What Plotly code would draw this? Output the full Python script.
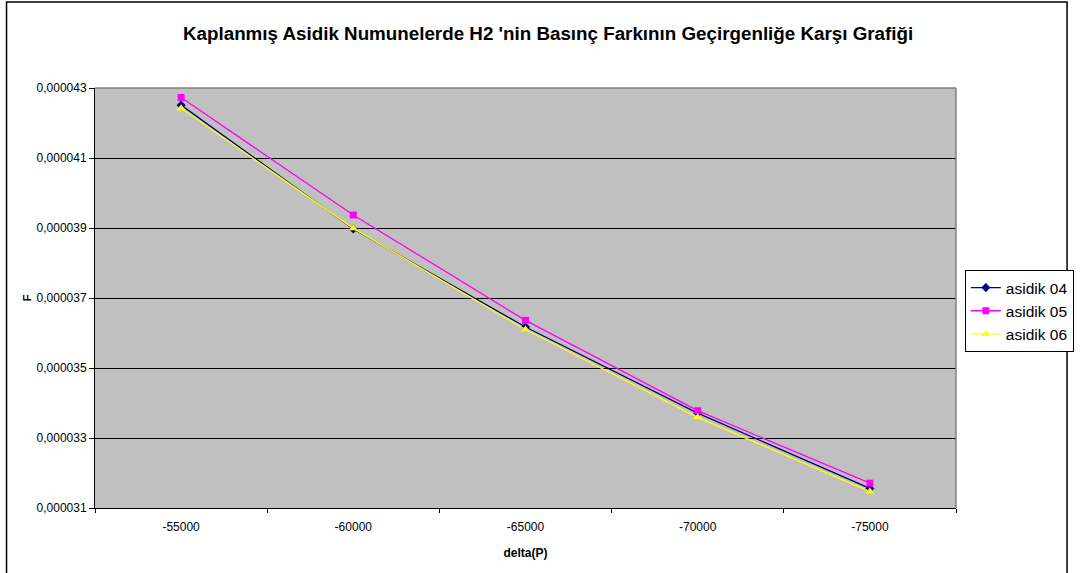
import plotly.graph_objects as go

# Pressure difference categories (x axis) and permeability values (y axis)
delta_p = ["-55000", "-60000", "-65000", "-70000", "-75000"]
asidik_04 = [0.00004251, 0.00003897, 0.00003617, 0.00003371, 0.00003156]
asidik_05 = [0.00004273, 0.00003937, 0.00003636, 0.00003378, 0.00003171]
asidik_06 = [0.00004242, 0.00003899, 0.00003610, 0.00003359, 0.00003147]

W, H = 1086, 573
L, R, T, B = 95, 115, 88, 65
pw, ph = W - L - R, H - T - B

def px_x(px):
    return (px - L) / pw

def px_y(py):
    return (H - B - py) / ph

fig = go.Figure()
series = [
    ("asidik 04", asidik_04, "#000080", "diamond", 7),
    ("asidik 05", asidik_05, "#FF00FF", "square", 7),
    ("asidik 06", asidik_06, "#FFFF00", "triangle-up", 8),
]
for name, vals, color, sym, size in series:
    fig.add_trace(go.Scatter(
        x=delta_p, y=vals, name=name, mode="lines+markers",
        line=dict(color=color, width=1.3),
        marker=dict(symbol=sym, size=size, color=color, line=dict(width=0)),
    ))

fig.update_layout(
    width=W, height=H,
    margin=dict(l=L, r=R, t=T, b=B),
    paper_bgcolor="white",
    plot_bgcolor="#C0C0C0",
    separators=",.",
    font=dict(family="Liberation Sans, Arial, sans-serif", color="black", size=12),
    title=dict(
        text="<b>Kaplanmış Asidik Numunelerde H2 'nin Basınç Farkının Geçirgenliğe Karşı Grafiği</b>",
        x=px_x(556), xref="paper", xanchor="center",
        y=1 - 33 / H, yref="container", yanchor="middle",
        font=dict(size=18.8),
    ),
    showlegend=True,
    legend=dict(
        x=px_x(980), y=px_y(311), xanchor="left", yanchor="middle",
        bordercolor="black", borderwidth=1, bgcolor="white",
        font=dict(size=15.5), itemwidth=30, tracegroupgap=0,
    ),
)

fig.update_xaxes(
    type="category", range=[-0.5, 4.5],
    tickson="boundaries", ticks="outside", ticklen=4, tickcolor="black",
    ticklabelstandoff=8,
    showline=True, linecolor="black", linewidth=1,
    showgrid=False, tickfont=dict(size=12),
    title=dict(text="<b>delta(P)</b>", font=dict(size=12), standoff=15),
)
fig.update_yaxes(
    range=[0.000031, 0.000043], dtick=0.000002, tick0=0.000031,
    tickformat=".6f", ticks="outside", ticklen=5, tickcolor="black",
    showline=True, linecolor="black", linewidth=1,
    showgrid=True, gridcolor="black", gridwidth=1,
    tickfont=dict(size=12),
    title=dict(text="<b>F</b>", font=dict(size=11), standoff=2),
)

# gray frame on the top and right of the plot area
fig.add_shape(type="line", xref="paper", yref="paper", x0=0, x1=1, y0=1, y1=1,
              line=dict(color="#808080", width=1.5))
fig.add_shape(type="line", xref="paper", yref="paper", x0=1, x1=1, y0=0, y1=1,
              line=dict(color="#808080", width=1.5))
# outer chart border
fig.add_shape(type="rect", xref="paper", yref="paper",
              x0=px_x(5), x1=px_x(1084), y0=px_y(600), y1=px_y(2),
              line=dict(color="black", width=1.5), layer="below")

fig.write_html("out.html")
